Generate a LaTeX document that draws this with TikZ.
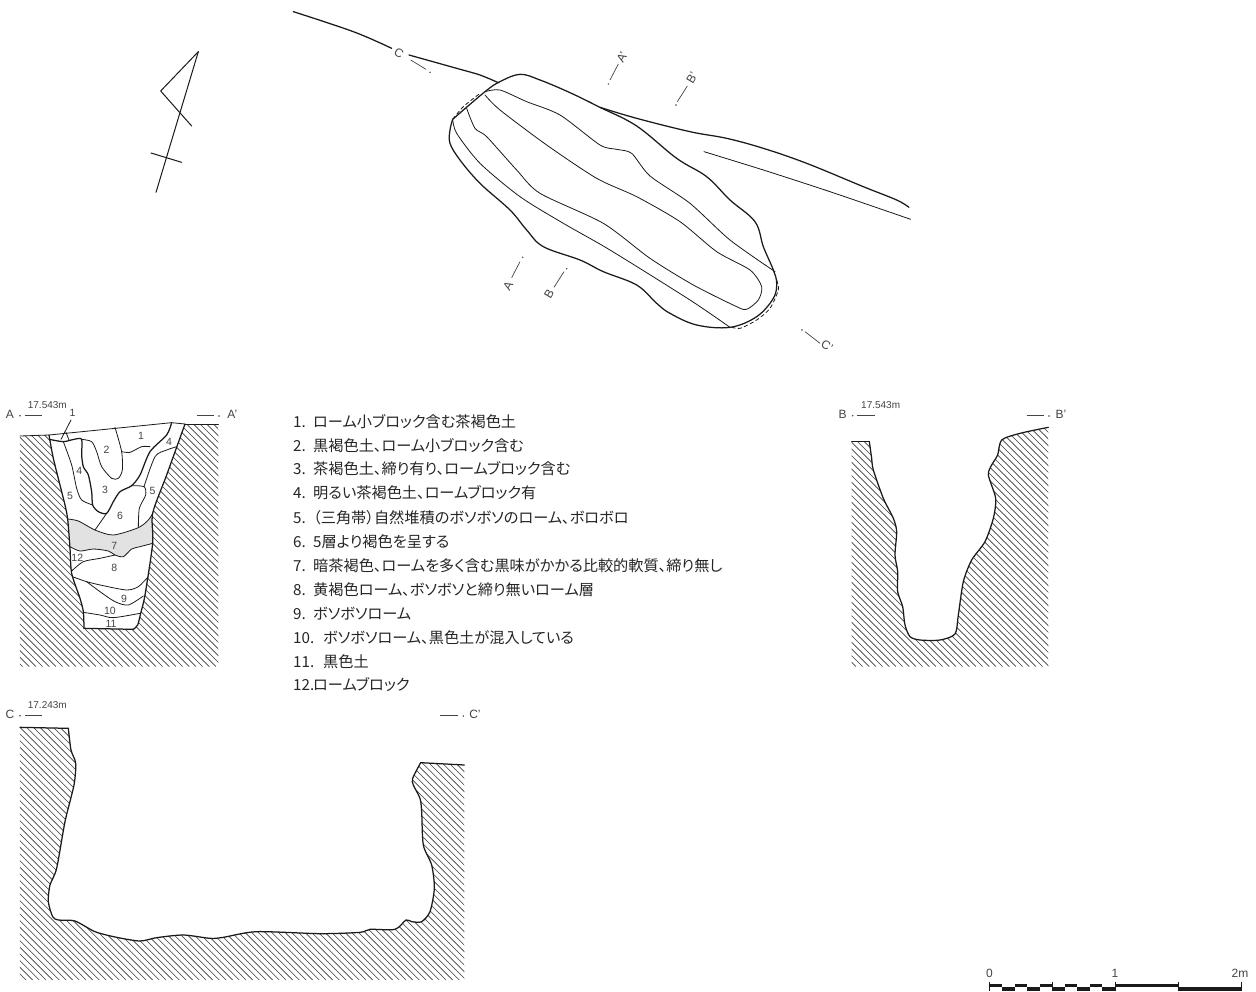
\documentclass[tikz,border=0pt]{standalone}
\usepackage{fontspec}
\setmainfont{Liberation Sans}
\newfontfamily\cjk[RawFeature=+palt]{Noto Sans CJK JP}
\definecolor{ink}{HTML}{1A1A1A}
\definecolor{lab}{HTML}{444444}
\definecolor{band}{HTML}{E2E2E2}
\tikzset{
 thickline/.style={draw=ink,line width=1.25pt,line join=round,line cap=round},
 thinline/.style={draw=ink,line width=0.8pt,line join=round,line cap=round},
 hatchline/.style={draw=ink!85,line width=0.6pt},
 dashline/.style={draw=ink,line width=0.8pt,dash pattern=on 4pt off 2.5pt},
 seclabel/.style={text=lab,inner sep=0pt,font=\fontsize{12}{12}\selectfont},
 elev/.style={text=lab,inner sep=0pt,font=\fontsize{10}{10}\selectfont},
 num/.style={text=lab,inner sep=0pt,font=\fontsize{10.5}{10.5}\selectfont},
 legend/.style={text=black!85,inner sep=0pt,anchor=west,font=\cjk\fontsize{15.2}{15.2}\selectfont},
 sm/.style={smooth,tension=0.45},
 smp/.style={smooth,tension=0.6}
}
\newcommand{\hatchfill}[4]{% x0,x1,y0,y1 in local coordinates
 \pgfmathsetmacro\hnext{#1+20}
 \foreach \hc in {#1,\hnext,...,#2}{\draw[hatchline] (\hc,#3)--({\hc+#4-#3},#4);}}
\newcommand{\secA}[1]{#1 plot[sm] coordinates {(147,120)(160,190)(185,290)(195,330)(203,372)(210,460)(215,535)(240,610)(250,650)(252,700)}}
\newcommand{\secAb}[1]{#1 plot[sm] coordinates {(400,703)(413,690)(422,655)(435,600)(458,445)(458,355)(500,240)(555,87)}}
\newcommand{\secB}[1]{#1 plot[sm] coordinates {(118,140)(125,190)(130,225)(160,310)(190,370)(200,410)(195,480)(203,530)(203,590)(218,635)(225,690)(240,725)(270,735)(330,735)(375,717)(385,660)(400,560)(425,495)(465,440)(490,370)(497,310)(475,240)(485,210)(503,180)(515,135)(570,115)(655,97)}}
\newcommand{\secC}[1]{#1 plot[sm] coordinates {(205,100)(213,165)(227,205)(222,270)(195,380)(170,520)(150,570)(145,620)(158,665)(175,675)(225,678)(285,710)(350,727)(420,738)(470,728)(550,720)(630,730)(670,727)(770,710)(960,716)(1080,712)(1110,703)(1185,703)(1218,675)(1235,680)(1265,680)(1290,650)(1303,580)(1295,510)(1270,450)(1265,350)(1260,310)(1240,270)(1238,250)(1262,203)}}
\begin{document}
\begin{tikzpicture}[x=1pt,y=-1pt]
\useasboundingbox (0,0) rectangle (1256,991);
\fill[white] (0,0) rectangle (1256,991);
% north arrow
\begin{scope}[shift={(140,0)},scale=1/3]
\draw[thinline,line width=1pt] (175,155)--(48,577);
\draw[thinline,line width=1pt] (175,155)--(62,273)--(155,378);
\draw[thinline,line width=1pt] (33,459)--(125,487);
\draw[thickline] plot[smp] coordinates {(460,35)(640,95)(755,145)};
\draw[thickline] plot[sm] coordinates {(807,165)(950,205)(1020,225)(1075,248)};
\end{scope}
% plan
\begin{scope}[shift={(430,50)},scale=1/3]
\draw[thickline] (68,208) plot[smp] coordinates {(68,208)(165,125)(210,95)(270,73)(330,90)(420,128)(510,172)(620,228)(740,325)(830,380)(900,450)(975,515)(1000,590)(1030,660)(1040,700)(1030,745)(980,800)(900,832)(800,825)(720,790)(680,760)(620,705)(520,665)(450,630)(340,590)(290,540)(240,480)(150,400)(90,330)(60,280)(60,240)(68,208)};
\draw[thinline] plot[sm] coordinates {(165,125)(210,120)(290,155)(390,195)(510,285)(560,298)(605,310)(660,378)(780,460)(900,570)(1035,665)};
\draw[thinline] plot[sm] coordinates {(68,208)(80,250)(150,340)(270,440)(400,520)(540,600)(780,750)(900,832)};
\draw[thinline] plot[sm] coordinates {(165,135)(210,180)(350,285)(500,385)(620,440)(750,515)(860,605)(960,660)(995,710)(985,750)(950,778)(920,770)(790,705)(660,625)(520,520)(330,430)(260,360)(170,260)(135,235)(110,175)};
\draw[dashline] plot[sm] coordinates {(68,208)(100,170)(150,130)};
\draw[dashline] plot[sm] coordinates {(1040,690)(1045,720)(1020,775)(980,810)(930,835)(900,830)};
\draw[thickline] plot[smp] coordinates {(510,172)(620,205)(780,245)(890,265)(1000,295)(1130,340)(1300,410)(1400,450)(1437,472)};
\draw[thinline] plot[sm] coordinates {(822,305)(1000,360)(1200,425)(1442,508)};
\end{scope}
% plan section marks
\begin{scope}[shift={(430,50)},scale=1/3]
\draw[draw=lab,line width=.7pt] (565,42)--(540,90);
\fill[lab] (535,102) circle (2.5);
\draw[draw=lab,line width=.7pt] (772,108)--(742,155);
\fill[lab] (738,165) circle (2.5);
\draw[draw=lab,line width=.7pt] (245,683)--(270,635);
\fill[lab] (278,622) circle (2.5);
\draw[draw=lab,line width=.7pt] (372,712)--(402,665);
\fill[lab] (410,656) circle (2.5);
\draw[draw=lab,line width=.7pt] (1125,845)--(1170,880);
\fill[lab] (1116,840) circle (2.5);
\draw[draw=lab,line width=.7pt] (-58,30)--(-12,58);
\fill[lab] (0,67) circle (2.5);
\end{scope}
\node[seclabel,rotate=60] (planA2) at (622,57) {A'};
\node[seclabel,rotate=60] (planB2) at (692,78) {B'};
\node[seclabel,rotate=60] (planA) at (508,286) {A};
\node[seclabel,rotate=60] (planB) at (549,294) {B};
\node[seclabel,rotate=-30] (planC2) at (827,346) {C'};
\node[seclabel,rotate=-30] (planC) at (399,53) {C};
% section A
\begin{scope}[shift={(0,395)},scale=1/3]
\begin{scope}
\clip (60,123)--(147,120)\secA{--}\secAb{--}--(655,87)--(655,815)--(60,815)--cycle;
\hatchfill{-680}{640}{87}{815}
\end{scope}
\fill[band] plot[sm] coordinates {(203,372)(235,378)(285,405)(340,420)(415,398)(445,375)(458,355)} -- plot[sm] coordinates {(458,445)(420,455)(395,462)(370,485)(345,480)(325,468)(280,462)(240,468)(210,455)} -- cycle;
\draw[thinline] (60,123)--(147,120)--(515,83);
\draw[thinline,line width=1pt] (555,87)--(655,87);
\draw[thickline] \secA{};
\draw[thickline] (252,700)--(400,703);
\draw[thickline] \secAb{};
\draw[thinline] (515,83)--(555,87);
\draw[thickline] plot[sm] coordinates {(148,133)(190,140)(222,133)(245,133)(245,180)(250,215)(265,240)(275,290)(278,330)(295,350)(320,355)(340,320)(360,290)(395,272)(420,240)(450,170)(500,120)(515,83)};
\draw[thinline] plot[sm] coordinates {(245,133)(275,140)(290,170)(305,215)(335,250)(355,250)(367,225)(365,170)(345,97)};
\draw[thinline] plot[sm] coordinates {(365,170)(390,172)(425,155)(450,155)};
\draw[thinline] plot[sm] coordinates {(190,140)(215,210)(230,280)(245,315)(278,330)};
\draw[thinline] plot[sm] coordinates {(395,272)(432,275)(437,300)(418,340)(415,398)};
\draw[thinline] plot[sm] coordinates {(432,275)(465,185)(500,165)(530,155)};
\draw[thinline] (320,355)--(285,405);
\draw[thinline] (213,75)--(183,133);
\draw[thinline] (198,112)--(207,135);
\draw[thinline] plot[sm] coordinates {(203,372)(235,378)(285,405)(340,420)(415,398)(445,375)(458,355)};
\draw[thinline] plot[sm] coordinates {(458,445)(420,455)(395,462)(370,485)(345,480)(325,468)(280,462)(240,468)(210,455)};
\draw[thinline] plot[sm] coordinates {(215,528)(250,500)(300,490)(345,480)};
\draw[thinline] plot[sm] coordinates {(217,545)(260,560)(310,572)(380,585)(415,575)(445,545)};
\draw[thinline] plot[sm] coordinates {(260,560)(300,590)(345,620)(385,630)(430,603)};
\draw[thinline] plot[sm] coordinates {(250,652)(300,660)(340,668)(420,655)};
\fill[lab] (60,62) circle (2.5);
\draw[draw=lab,line width=.7pt] (75,62)--(127,62);
\draw[draw=lab,line width=.7pt] (590,62)--(643,62);
\fill[lab] (657,63) circle (2.5);
\node[seclabel] (a1) at (30,58) {A};
\node[seclabel] (a2) at (697,58) {A'};
\node[elev] (a3) at (142,30) {17.543m};
\foreach \nn/\px/\py/\tx in {n1/218/55/1,n2/423/122/1,n3/320/165/2,n4/238/228/4,n5/315/285/3,n6/210/303/5,n7/458/287/5,n8/507/140/4,n9/360/362/6,n10/343/452/7,n11/232/487/12,n12/343/520/8,n13/372/612/9,n14/330/648/10,n15/333/687/11}{\node[num] (\nn) at (\px,\py) {\tx};}
\end{scope}
% section B
\begin{scope}[shift={(830,395)},scale=1/3]
\begin{scope}
\clip (65,140)--(118,140)\secB{--}--(655,815)--(65,815)--cycle;
\hatchfill{-680}{640}{97}{815}
\end{scope}
\draw[thickline] (65,140)--(118,140);
\draw[thickline] \secB{};
\fill[lab] (68,62) circle (2.5);
\draw[draw=lab,line width=.7pt] (82,62)--(135,62);
\draw[draw=lab,line width=.7pt] (590,62)--(643,62);
\fill[lab] (657,63) circle (2.5);
\node[seclabel] (b1) at (38,58) {B};
\node[seclabel] (b2) at (693,58) {B'};
\node[elev] (b3) at (152,30) {17.543m};
\end{scope}
% section C
\begin{scope}[shift={(0,695)},scale=1/3]
\begin{scope}
\clip (60,97)--(205,100)\secC{--}--(1393,210)--(1393,855)--(60,855)--cycle;
\hatchfill{-780}{1380}{97}{855}
\end{scope}
\draw[thickline] (60,97)--(205,100);
\draw[thickline] \secC{};
\draw[thickline] (1262,203)--(1393,210);
\fill[lab] (60,62) circle (2.5);
\draw[draw=lab,line width=.7pt] (75,62)--(127,62);
\draw[draw=lab,line width=.7pt] (1320,62)--(1375,62);
\fill[lab] (1390,63) circle (2.5);
\node[seclabel] (c1) at (30,58) {C};
\node[seclabel] (c2) at (1425,58) {C'};
\node[elev] (c3) at (142,30) {17.243m};
\end{scope}
% legend
\node[legend] (l1) at (293,421.7) {\makebox[20pt][l]{1.}ローム小ブロック含む茶褐色土};
\node[legend] (l2) at (293,445.7) {\makebox[20pt][l]{2.}黒褐色土、ローム小ブロック含む};
\node[legend] (l3) at (293,469) {\makebox[20pt][l]{3.}茶褐色土、締り有り、ロームブロック含む};
\node[legend] (l4) at (293,493) {\makebox[20pt][l]{4.}明るい茶褐色土、ロームブロック有};
\node[legend] (l5) at (293,517.7) {\makebox[20pt][l]{5.}（三角帯）自然堆積のボソボソのローム、ボロボロ};
\node[legend] (l6) at (293,541.7) {\makebox[20pt][l]{6.}5層より褐色を呈する};
\node[legend] (l7) at (293,565.7) {\makebox[20pt][l]{7.}暗茶褐色、ロームを多く含む黒味がかかる比較的軟質、締り無し};
\node[legend] (l8) at (293,589.3) {\makebox[20pt][l]{8.}黄褐色ローム、ボソボソと締り無いローム層};
\node[legend] (l9) at (293,613.3) {\makebox[20pt][l]{9.}ボソボソローム};
\node[legend] (l10) at (293,637.3) {\makebox[30pt][l]{10.}ボソボソローム、黒色土が混入している};
\node[legend] (l11) at (293,661.7) {\makebox[30pt][l]{11.}黒色土};
\node[legend] (l12) at (293,685) {\makebox[20pt][l]{12.}ロームブロック};
% scale bar
\begin{scope}[shift={(970,955)},scale=1/3]
\foreach \xa/\xb in {58/97,135/172,210/247,285/322,360/397,437/625}{\fill[ink] (\xa,87) rectangle (\xb,97);}
\foreach \xa/\xb in {97/135,172/210,247/285,322/360,397/437,625/813}{\fill[ink] (\xa,97) rectangle (\xb,107);}
\foreach \xa in {58,247,437,625,813}{\draw[ink,line width=.6pt] (\xa,80)--(\xa,107);}
\node[seclabel] (s0) at (58,55) {0};
\node[seclabel] (s1) at (435,55) {1};
\node[seclabel] (s2) at (810,55) {2m};
\end{scope}
\end{tikzpicture}
\end{document}
